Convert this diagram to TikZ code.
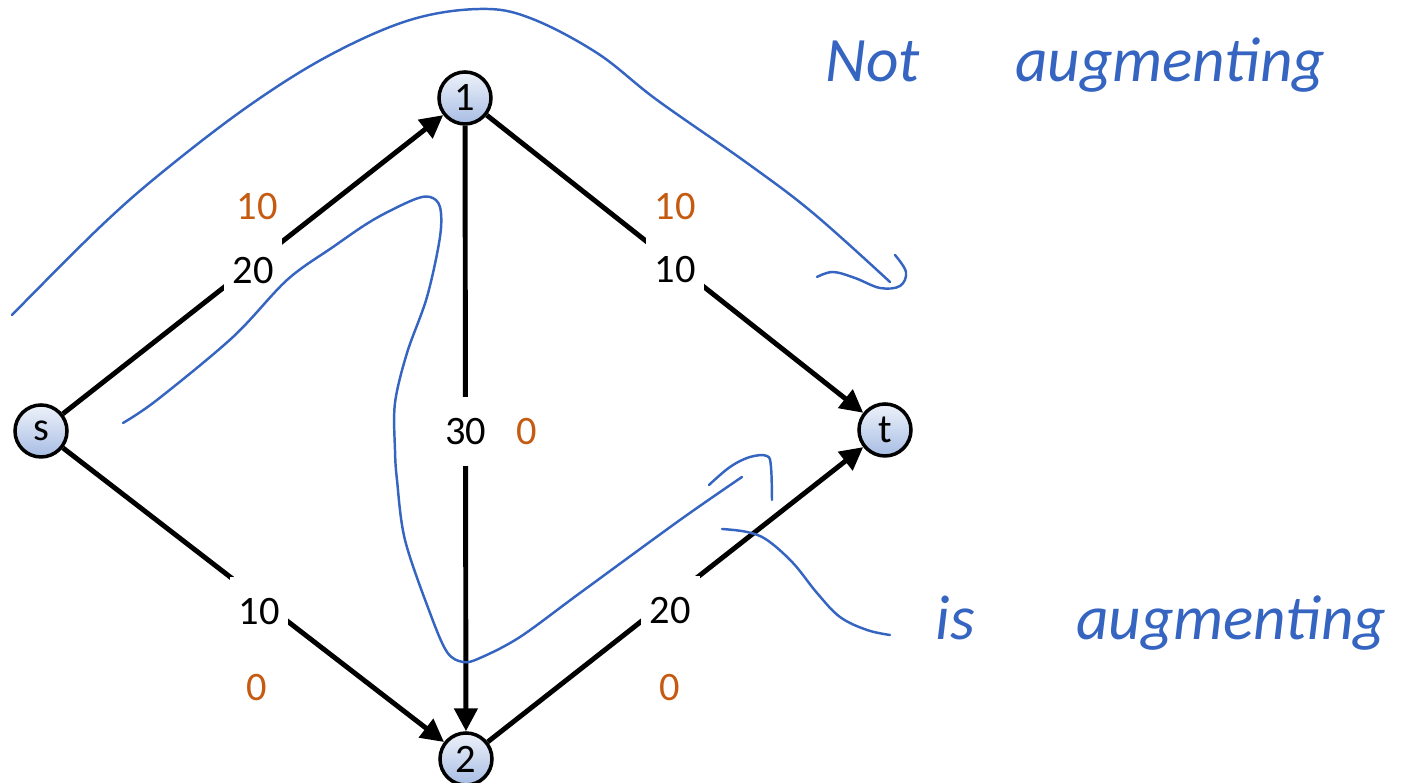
\documentclass[tikz,border=0pt]{standalone}
\usepackage{fontspec}
\setmainfont{Carlito}
\usetikzlibrary{arrows.meta,positioning}
\definecolor{flow}{HTML}{C55A11}
\definecolor{ink}{HTML}{3565C1}
\definecolor{vtop}{HTML}{EEF2FA}
\definecolor{vbot}{HTML}{A7BDE4}
\begin{document}
\begin{tikzpicture}[
    vert/.style={circle,draw,line width=1pt,minimum size=0.52cm,inner sep=0pt,top color=vtop,bottom color=vbot,font=\fontsize{11.5}{13}\selectfont},
    edge/.style={-{Triangle[length=6.5pt,width=6.5pt]},line width=1.4pt},
    capl/.style={fill=white,inner xsep=2.5pt,inner ysep=6pt,font=\fontsize{11.5}{13}\selectfont},
    flw/.style={text=flow,font=\fontsize{11.5}{13}\selectfont},
    pen/.style={ink,line width=0.7pt,line cap=round,line join=round},
    note/.style={ink,font=\fontsize{18}{22}\selectfont\itshape,anchor=base west,inner sep=0pt},
]
\useasboundingbox (0,0) rectangle (14.1,7.83);

% Vertices
\node[vert] (s) at (0.41,3.52) {s};
\node[vert] (v1) at (4.65,6.85) {1};
\node[vert] (v2) at (4.66,0.24) {2};
\node[vert] (t) at (8.85,3.53) {t};

% Capacities
\draw[edge] (s) -- node[capl,pos=.5,yshift=-0.06cm] (c1) {20} (v1);
\draw[edge] (v1) -- node[capl,pos=.5,yshift=-0.06cm] (c2) {10} (t);
\draw[edge] (v1) -- node[capl,pos=.505] (c3) {30} (v2);
\draw[edge] (s) -- node[capl,pos=.515,yshift=-0.12cm] (c4) {10} (v2);
\draw[edge] (v2) -- node[capl,pos=.486,yshift=-0.12cm] (c5) {20} (t);

% Flows
\node[flw] (f1) at (2.57,5.76) {10};
\node[flw] (f2) at (6.75,5.76) {10};
\node[flw] (f3) at (5.27,3.51) {0};
\node[flw] (f4) at (2.57,0.95) {0};
\node[flw] (f5) at (6.70,0.95) {0};

% Hand-drawn paths
\draw[pen] plot[smooth,tension=0.6] coordinates {(0.12,4.68) (1.00,5.56) (1.65,6.13) (2.50,6.78) (3.30,7.28) (4.10,7.63) (4.80,7.74) (5.30,7.65) (5.97,7.30) (6.57,6.83) (7.47,6.20) (8.13,5.70) (8.90,5.01)};
\draw[pen] plot[smooth,tension=0.6] coordinates {(8.95,5.28) (9.06,5.11) (9.00,4.97) (8.80,4.95) (8.55,5.05) (8.33,5.11) (8.17,5.06)};
\draw[pen] plot[smooth,tension=0.55] coordinates {(1.23,3.60) (1.57,3.83) (2.33,4.46) (2.87,5.03) (3.33,5.36) (3.73,5.63) (4.13,5.83) (4.30,5.86) (4.40,5.76) (4.40,5.46) (4.27,4.86) (4.07,4.30) (3.95,3.80) (3.95,3.33) (3.97,3.03) (4.05,2.43) (4.30,1.70) (4.47,1.31) (4.63,1.21) (4.80,1.25) (5.20,1.46) (5.80,1.90) (6.80,2.63) (7.42,3.06)};
\draw[pen] plot[smooth,tension=0.6] coordinates {(7.09,2.98) (7.30,3.16) (7.50,3.26) (7.67,3.27) (7.71,3.16) (7.72,2.83)};
\draw[pen] plot[smooth,tension=0.6] coordinates {(7.22,2.54) (7.47,2.51) (7.67,2.43) (7.93,2.20) (8.17,1.90) (8.40,1.66) (8.67,1.53) (8.90,1.48)};

% Notes
\node[note] (na) at (8.25,7.01) {Not\hspace{1.5em}augmenting};
\node[note] (ia) at (9.35,1.43) {is\hspace{1.6em}augmenting};
\end{tikzpicture}
\end{document}
